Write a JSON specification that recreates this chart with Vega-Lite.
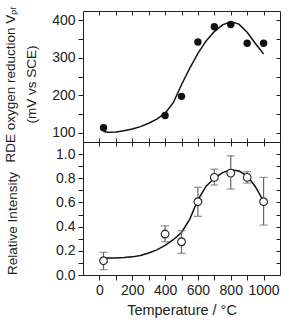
{
  "$schema": "https://vega.github.io/schema/vega-lite/v6.json",
  "padding": {"left": 2, "top": 5, "right": 5, "bottom": 5},
  "spacing": 0,
  "bounds": "flush",
  "config": {
    "font": "Liberation Sans",
    "view": {"stroke": "#222", "strokeWidth": 1},
    "axis": {
      "domain": false,
      "grid": false,
      "tickColor": "#222",
      "tickWidth": 1,
      "labelFont": "Liberation Sans",
      "labelFontSize": 14,
      "labelColor": "#222",
      "titleFont": "Liberation Sans",
      "titleFontSize": 13.5,
      "titleFontWeight": "normal",
      "titleColor": "#222"
    }
  },
  "datasets": {
    "topPts": [
      {"t": 25, "v": 113}, {"t": 400, "v": 146}, {"t": 500, "v": 197}, {"t": 600, "v": 342},
      {"t": 700, "v": 383}, {"t": 800, "v": 389}, {"t": 900, "v": 339}, {"t": 1000, "v": 339}
    ],
    "topCurve": [
      {"t": 25, "v": 103}, {"t": 50, "v": 101}, {"t": 100, "v": 102}, {"t": 150, "v": 105},
      {"t": 200, "v": 110}, {"t": 250, "v": 116}, {"t": 300, "v": 125}, {"t": 350, "v": 136},
      {"t": 400, "v": 152}, {"t": 450, "v": 180}, {"t": 500, "v": 228}, {"t": 550, "v": 272},
      {"t": 600, "v": 312}, {"t": 650, "v": 345}, {"t": 700, "v": 370}, {"t": 750, "v": 388},
      {"t": 800, "v": 396}, {"t": 850, "v": 390}, {"t": 900, "v": 368}, {"t": 950, "v": 338},
      {"t": 1000, "v": 310}
    ],
    "botPts": [
      {"t": 25, "v": 0.118, "lo": 0.044, "hi": 0.188},
      {"t": 400, "v": 0.339, "lo": 0.275, "hi": 0.407},
      {"t": 500, "v": 0.275, "lo": 0.179, "hi": 0.366},
      {"t": 600, "v": 0.606, "lo": 0.485, "hi": 0.725},
      {"t": 700, "v": 0.807, "lo": 0.744, "hi": 0.876},
      {"t": 800, "v": 0.843, "lo": 0.711, "hi": 0.986},
      {"t": 900, "v": 0.807, "lo": 0.760, "hi": 0.854},
      {"t": 1000, "v": 0.606, "lo": 0.413, "hi": 0.807}
    ],
    "botCurve": [
      {"t": 25, "v": 0.140}, {"t": 100, "v": 0.141}, {"t": 150, "v": 0.144}, {"t": 200, "v": 0.150},
      {"t": 250, "v": 0.162}, {"t": 300, "v": 0.182}, {"t": 350, "v": 0.208}, {"t": 400, "v": 0.245},
      {"t": 450, "v": 0.292}, {"t": 500, "v": 0.352}, {"t": 550, "v": 0.460}, {"t": 600, "v": 0.622},
      {"t": 650, "v": 0.735}, {"t": 700, "v": 0.800}, {"t": 750, "v": 0.847}, {"t": 800, "v": 0.870},
      {"t": 850, "v": 0.860}, {"t": 900, "v": 0.820}, {"t": 950, "v": 0.730}, {"t": 1000, "v": 0.610}
    ]
  },
  "vconcat": [
    {
      "width": 197,
      "height": 131,
      "layer": [
        {
          "data": {"name": "topCurve"},
          "mark": {"type": "line", "color": "#111", "strokeWidth": 1.5},
          "encoding": {
            "x": {"field": "t", "type": "quantitative", "scale": {"domain": [-100, 1100], "nice": false},
              "axis": {"orient": "top", "labels": false, "title": null, "tickSize": -4,
                "values": [0, 100, 200, 300, 400, 500, 600, 700, 800, 900, 1000]}},
            "y": {"field": "v", "type": "quantitative", "scale": {"domain": [75, 425], "nice": false, "zero": false},
              "axis": {"orient": "right", "labels": false, "title": null, "tickSize": -4,
                "values": [100, 150, 200, 250, 300, 350, 400]}}
          }
        },
        {
          "data": {"name": "topPts"},
          "mark": {"type": "point", "filled": true, "color": "#111", "size": 55, "opacity": 1},
          "encoding": {
            "x": {"field": "t", "type": "quantitative",
              "axis": {"orient": "bottom", "labels": false, "title": null, "tickSize": -4,
                "values": [0, 100, 200, 300, 400, 500, 600, 700, 800, 900, 1000]}},
            "y": {"field": "v", "type": "quantitative",
              "axis": {"orient": "left", "tickSize": 5, "labelPadding": 3,
                "values": [100, 150, 200, 250, 300, 350, 400],
                "labelExpr": "datum.value % 100 == 0 ? datum.label : ''",
                "title": ["RDE oxygen reduction Vₚᵣ", "(mV vs SCE)"],
                "titleLineHeight": 21, "titleX": -66, "titleY": 73, "titleAngle": -90,
                "titleAlign": "center", "titleBaseline": "bottom"}}
          }
        }
      ],
      "resolve": {"axis": {"x": "independent", "y": "independent"}}
    },
    {
      "width": 197,
      "height": 133,
      "layer": [
        {
          "data": {"name": "botCurve"},
          "mark": {"type": "line", "color": "#111", "strokeWidth": 1.5},
          "encoding": {
            "x": {"field": "t", "type": "quantitative", "scale": {"domain": [-100, 1100], "nice": false},
              "axis": {"orient": "top", "labels": false, "title": null, "tickSize": -4,
                "values": [0, 100, 200, 300, 400, 500, 600, 700, 800, 900, 1000]}},
            "y": {"field": "v", "type": "quantitative", "scale": {"domain": [0, 1.1], "nice": false},
              "axis": {"orient": "right", "labels": false, "title": null, "tickSize": -4,
                "values": [0, 0.1, 0.2, 0.3, 0.4, 0.5, 0.6, 0.7, 0.8, 0.9, 1.0]}}
          }
        },
        {
          "data": {"name": "botPts"},
          "mark": {"type": "rule", "color": "#666", "strokeWidth": 1.2},
          "encoding": {
            "x": {"field": "t", "type": "quantitative",
              "axis": {"orient": "bottom", "tickSize": 5, "labelPadding": 3,
                "values": [0, 100, 200, 300, 400, 500, 600, 700, 800, 900, 1000],
                "labelExpr": "datum.value % 200 == 0 ? datum.label : ''",
                "format": "d",
                "title": "Temperature / °C", "titlePadding": 6, "titleFontSize": 14.5}},
            "y": {"field": "lo", "type": "quantitative",
              "axis": {"orient": "left", "tickSize": 5, "labelPadding": 3,
                "values": [0, 0.1, 0.2, 0.3, 0.4, 0.5, 0.6, 0.7, 0.8, 0.9, 1.0],
                "labelExpr": "round(datum.value * 10) % 2 == 0 ? format(datum.value, '.1f') : ''",
                "title": "Relative Intensity",
                "titleX": -64, "titleY": 81, "titleAngle": -90,
                "titleAlign": "center", "titleBaseline": "bottom"}},
            "y2": {"field": "hi"}
          }
        },
        {
          "data": {"name": "botPts"},
          "mark": {"type": "tick", "color": "#666", "orient": "horizontal", "size": 8, "thickness": 1.2},
          "encoding": {
            "x": {"field": "t", "type": "quantitative", "axis": null},
            "y": {"field": "lo", "type": "quantitative", "axis": null}
          }
        },
        {
          "data": {"name": "botPts"},
          "mark": {"type": "tick", "color": "#666", "orient": "horizontal", "size": 8, "thickness": 1.2},
          "encoding": {
            "x": {"field": "t", "type": "quantitative", "axis": null},
            "y": {"field": "hi", "type": "quantitative", "axis": null}
          }
        },
        {
          "data": {"name": "botPts"},
          "mark": {"type": "point", "filled": true, "fill": "white", "stroke": "#222", "strokeWidth": 1.1, "size": 60, "opacity": 1},
          "encoding": {
            "x": {"field": "t", "type": "quantitative", "axis": null},
            "y": {"field": "v", "type": "quantitative", "axis": null}
          }
        }
      ],
      "resolve": {"axis": {"x": "independent", "y": "independent"}}
    }
  ]
}
